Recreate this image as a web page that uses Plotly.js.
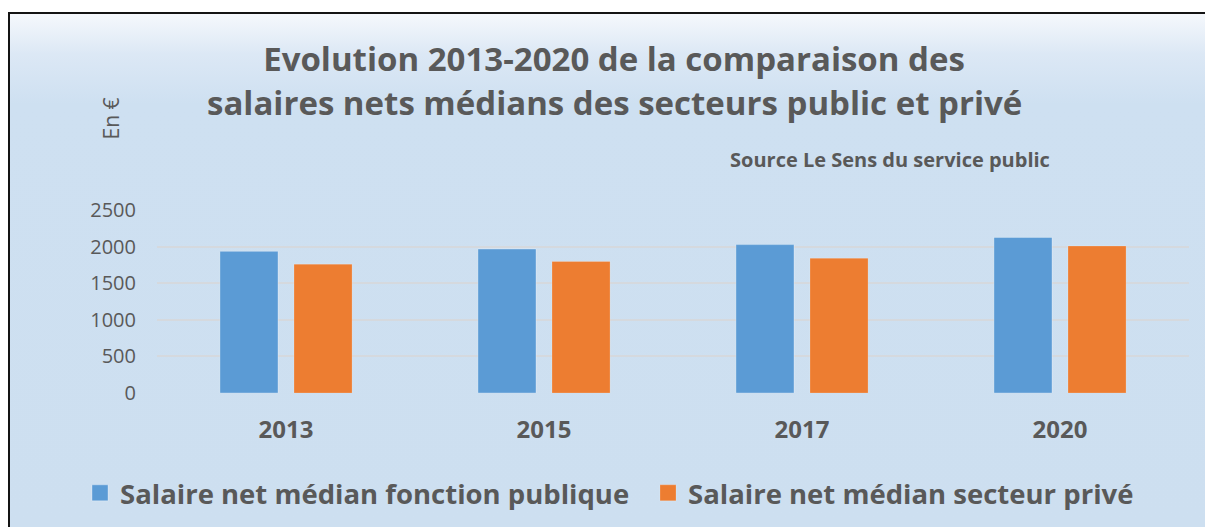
<!DOCTYPE html>
<html>
<head>
<meta charset="utf-8">
<script src="https://cdn.plot.ly/plotly-3.0.1.min.js"></script>
<style>
  html, body { margin: 0; padding: 0; background: #ffffff; overflow: hidden; width: 1205px; height: 527px; }
  #frame {
    position: absolute; left: 8px; top: 12px; width: 1195px; height: 513px;
    border-top: 2px solid #141414; border-left: 2px solid #141414;
    background: linear-gradient(to bottom, #f5f8fc 0px, #dce8f5 40px, #cee0f1 90px, #cddff0 100%);
  }
  #chart { position: absolute; left: 0; top: 0; width: 1205px; height: 527px; }
  #chart .legendpoints path { d: path("M8,8H-8V-8H8Z"); }
</style>
</head>
<body>
<div id="frame"></div>
<div id="chart"></div>
<script>
const categories = ["2013", "2015", "2017", "2020"];
const seriesNames = ["Salaire net médian fonction publique", "Salaire net médian secteur privé"];
const publicValues = [1935, 1967, 2027, 2126];
const privateValues = [1760, 1797, 1841, 2008];
const yTickVals = [0, 500, 1000, 1500, 2000, 2500];
const titleLine1 = "Evolution 2013-2020 de la comparaison des";
const titleLine2 = "salaires nets médians des secteurs public et privé";
const sourceText = "Source Le Sens du service public";
const unitText = "En €";

const textColor = "#595959";
const fontFamily = "'Open Sans', Lato, sans-serif";

const traces = [
  {
    type: "bar", name: seriesNames[0], x: categories, y: publicValues, legend: "legend",
    marker: { color: "#5b9bd5", line: { color: "rgba(255,255,255,0.3)", width: 1 } }
  },
  {
    type: "bar", name: seriesNames[1], x: categories, y: privateValues, legend: "legend2",
    marker: { color: "#ed7d31", line: { color: "rgba(255,255,255,0.2)", width: 1 } }
  }
];

const legendFont = { family: fontFamily, size: 27.5, color: textColor, weight: "bold" };
const legendY = (393.5 - 494) / 184;

const layout = {
  width: 1205, height: 527,
  paper_bgcolor: "rgba(0,0,0,0)", plot_bgcolor: "rgba(0,0,0,0)",
  margin: { l: 157, r: 16, t: 209.5, b: 133.5, pad: 0, autoexpand: false },
  barmode: "group", bargap: 0.426, bargroupgap: 0.216,
  font: { family: fontFamily, color: textColor },
  title: {
    text: "<b>" + titleLine1 + "</b>",
    font: { family: fontFamily, size: 33, color: textColor },
    xref: "container", yref: "container", x: 614 / 1205, xanchor: "center",
    y: 1 - 59 / 527, yanchor: "middle"
  },
  xaxis: {
    type: "category", showgrid: false, zeroline: false, showline: false, ticks: "",
    tickfont: { family: fontFamily, size: 24, color: textColor, weight: "bold" },
    ticklabelstandoff: 20, automargin: false
  },
  yaxis: {
    range: [0, 2500], tickvals: yTickVals, ticktext: yTickVals.map(String),
    showgrid: true, gridcolor: "#d5d9de", gridwidth: 1.6,
    zeroline: false, showline: false, ticks: "",
    tickfont: { family: fontFamily, size: 20, color: textColor },
    ticklabelstandoff: 20, automargin: false
  },
  showlegend: true,
  legend: {
    orientation: "h", xref: "paper", yref: "paper",
    x: (80 - 157) / 1032, xanchor: "left", y: legendY, yanchor: "middle",
    font: legendFont, bgcolor: "rgba(0,0,0,0)", borderwidth: 0
  },
  legend2: {
    orientation: "h", xref: "paper", yref: "paper",
    x: (648 - 157) / 1032, xanchor: "left", y: legendY, yanchor: "middle",
    font: legendFont, bgcolor: "rgba(0,0,0,0)", borderwidth: 0
  },
  annotations: [
    {
      text: "<b>" + titleLine2 + "</b>", xref: "paper", yref: "paper",
      x: (614 - 157) / 1032, y: (393.5 - 101) / 184, xanchor: "center", yanchor: "middle",
      showarrow: false, font: { family: fontFamily, size: 33, color: textColor }
    },
    {
      text: "<b>" + sourceText + "</b>", xref: "paper", yref: "paper",
      x: (889.5 - 157) / 1032, y: (393.5 - 158.5) / 184, xanchor: "center", yanchor: "middle",
      showarrow: false, font: { family: fontFamily, size: 20, color: textColor }
    },
    {
      text: unitText, xref: "paper", yref: "paper", textangle: -90,
      x: (110.5 - 157) / 1032, y: (393.5 - 118) / 184, xanchor: "center", yanchor: "middle",
      showarrow: false, font: { family: fontFamily, size: 21, color: textColor }
    }
  ]
};

function enlargeLegendSymbols(gd) {
  gd.querySelectorAll("g.legendpoints path").forEach(function (p) {
    p.setAttribute("d", "M8,8H-8V-8H8Z");
  });
}

const gd = document.getElementById("chart");
Plotly.newPlot(gd, traces, layout, { displayModeBar: false, responsive: false }).then(function () {
  enlargeLegendSymbols(gd);
  gd.on("plotly_afterplot", function () { enlargeLegendSymbols(gd); });
  setTimeout(function () { enlargeLegendSymbols(gd); }, 50);
});
</script>
</body>
</html>
